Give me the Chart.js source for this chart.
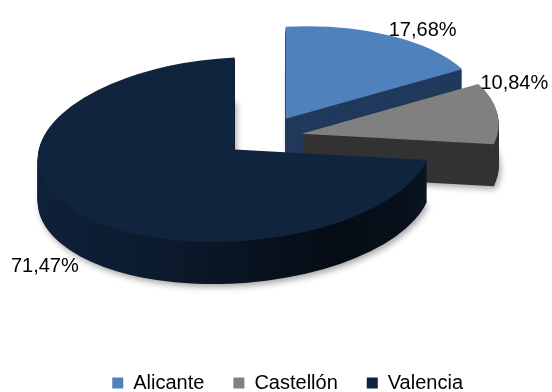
<!DOCTYPE html>
<html>
<head>
<meta charset="utf-8">
<script src="https://cdn.jsdelivr.net/npm/chart.js@4.4.1/dist/chart.umd.min.js"></script>
<style>
  html, body { margin: 0; padding: 0; background: #fff; }
</style>
</head>
<body>
<canvas id="provincias" width="552" height="392"></canvas>
<script>
// Reparto por provincias (%)
const provincias = ['Alicante', 'Castellón', 'Valencia'];
const porcentajes = [17.68, 10.84, 71.47];

// Colores: cara superior y pared lateral de cada porción
const colorCara = ['#4F81BD', '#808080', '#10243E'];
const colorLado = ['#213A5C', '#333333', null]; // Valencia lleva degradado

// Efecto 3D
const aplanado = 0.467;              // escala vertical del disco
const ejeGiro = 108;                 // y del eje sobre el que se inclina el disco
const giroLateral = 0.05;            // ligera caída hacia la izquierda
const grosor = 42;                   // alto de la pared en px
const separacion = [45, 40, 35];     // desplazamiento de cada porción
const desplazaEtiqueta = [[33, -5], [17, -29], [-36, 52]];

function formato(v) {
    return v.toFixed(2).replace('.', ',') + '%';
}

function mitad(arc) {
    return (arc.startAngle + arc.endAngle) / 2;
}

// Paso de coordenadas del disco (sin aplanar) a pantalla
function aPantalla(arc, x, y) {
    const yp = ejeGiro + (y - ejeGiro) * aplanado;
    return { x: x, y: yp - giroLateral * (x - arc.x) };
}

const tarta3d = {
    id: 'tarta3d',
    beforeDatasetsDraw(chart) {
        const ctx = chart.ctx;
        const arcs = chart.getDatasetMeta(0).data;

        function pinta(arc, i, dy, relleno, sombra) {
            const m = mitad(arc);
            const copia = Object.create(arc);
            copia.options = Object.assign({}, arc.options, { backgroundColor: relleno, borderWidth: 0 });
            ctx.save();
            if (sombra) {
                ctx.shadowColor = 'rgba(0, 0, 0, 0.35)';
                ctx.shadowBlur = 6;
                ctx.shadowOffsetX = 2;
                ctx.shadowOffsetY = 3;
            }
            ctx.transform(1, -giroLateral, 0, 1, 0, giroLateral * arc.x);
            ctx.translate(0, dy + ejeGiro);
            ctx.scale(1, aplanado);
            ctx.translate(0, -ejeGiro);
            ctx.translate(Math.cos(m) * separacion[i], Math.sin(m) * separacion[i]);
            copia.draw(ctx);
            ctx.restore();
        }

        // degradado de la pared de Valencia
        const v = arcs[2];
        const grad = ctx.createLinearGradient(v.x - v.outerRadius, 0, v.x + v.outerRadius, 0);
        grad.addColorStop(0, '#0F2038');
        grad.addColorStop(0.35, '#0B192B');
        grad.addColorStop(0.75, '#060C15');
        grad.addColorStop(0.95, '#08111C');
        grad.addColorStop(1, '#0C1725');

        // paredes, de abajo hacia arriba
        for (let d = grosor; d >= 1; d--) {
            arcs.forEach(function (arc, i) {
                pinta(arc, i, d, colorLado[i] || grad, d === grosor);
            });
        }
        // caras superiores
        arcs.forEach(function (arc, i) {
            pinta(arc, i, 0, colorCara[i], false);
        });
        return false;
    },
    afterDraw(chart) {
        const ctx = chart.ctx;
        const arcs = chart.getDatasetMeta(0).data;
        ctx.save();
        ctx.font = '20px "Liberation Sans", Arial, sans-serif';
        ctx.fillStyle = '#000';
        ctx.textAlign = 'center';
        ctx.textBaseline = 'middle';
        arcs.forEach(function (arc, i) {
            const m = mitad(arc);
            const dist = separacion[i] + arc.outerRadius;
            const p = aPantalla(arc, arc.x + Math.cos(m) * dist, arc.y + Math.sin(m) * dist);
            ctx.fillText(formato(porcentajes[i]), p.x + desplazaEtiqueta[i][0], p.y + desplazaEtiqueta[i][1]);
        });
        ctx.restore();
    }
};

new Chart(document.getElementById('provincias'), {
    type: 'pie',
    data: {
        labels: provincias,
        datasets: [{
            data: porcentajes,
            backgroundColor: colorCara,
            borderWidth: 0
        }]
    },
    options: {
        responsive: false,
        animation: false,
        devicePixelRatio: 1,
        radius: 197,
        layout: {
            padding: { left: 32, right: 60, top: 0, bottom: -11 }
        },
        plugins: {
            legend: {
                position: 'bottom',
                align: 'end',
                labels: {
                    boxWidth: 11,
                    boxHeight: 11,
                    padding: 29,
                    color: '#000',
                    font: { family: '"Liberation Sans", Arial, sans-serif', size: 20 }
                }
            },
            tooltip: { enabled: false }
        }
    },
    plugins: [tarta3d]
});
</script>
</body>
</html>
